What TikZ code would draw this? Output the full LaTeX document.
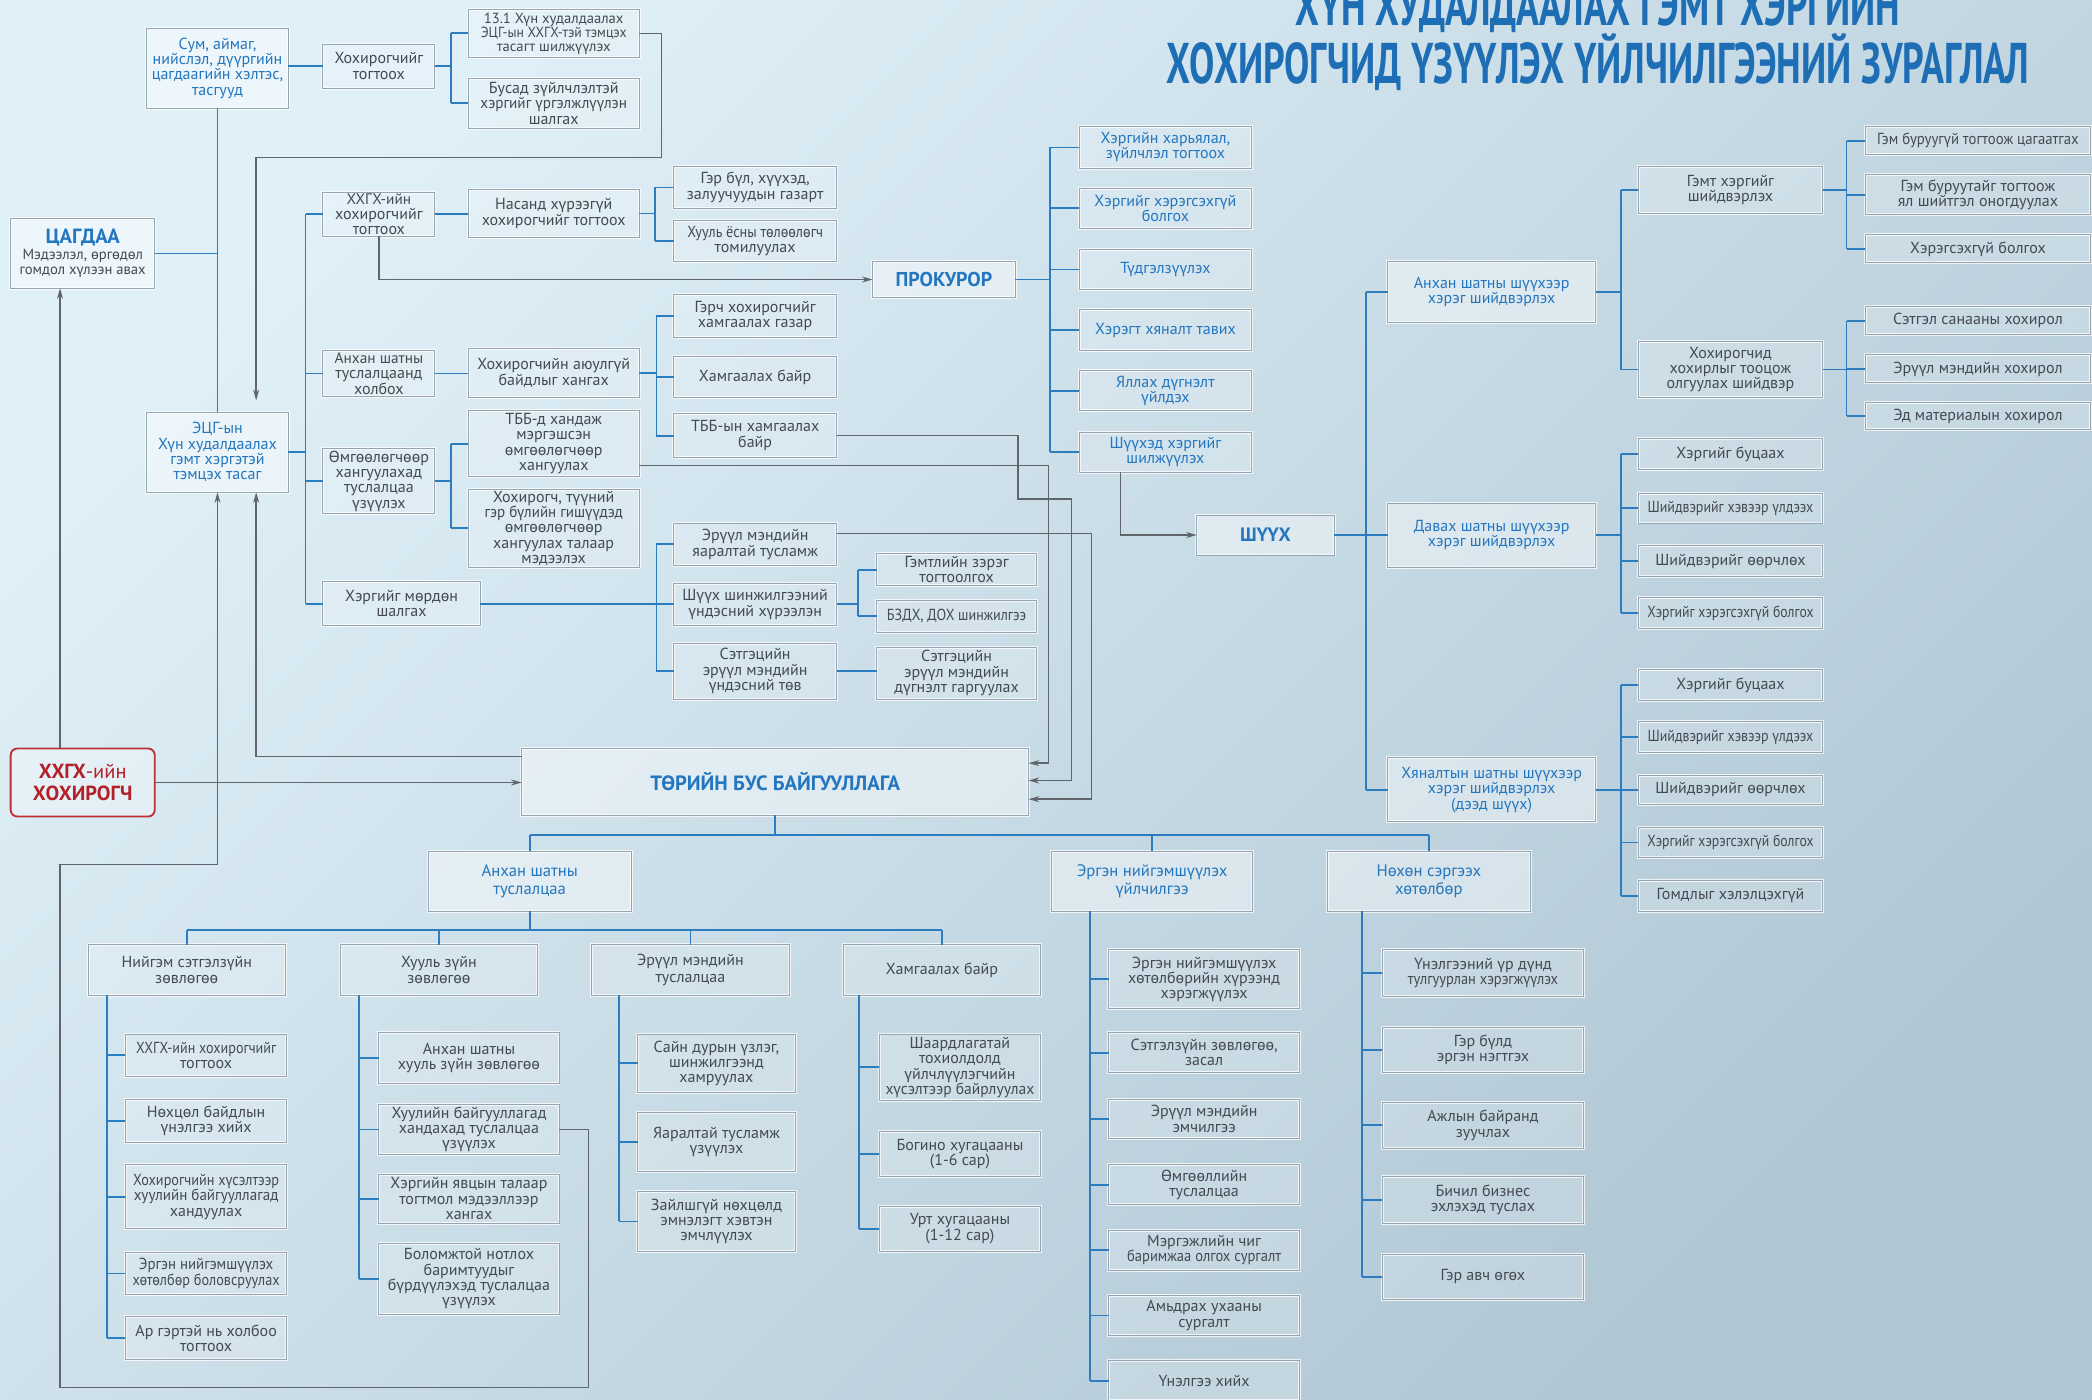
\documentclass[tikz,border=0pt]{standalone}
\usepackage{fontspec}
\usepackage{graphicx}
\setmainfont{PT Sans}
\usetikzlibrary{arrows.meta}
\definecolor{bgL}{RGB}{224,240,248}
\definecolor{bgD}{RGB}{176,199,212}
\definecolor{bord}{RGB}{150,164,175}
\definecolor{blueT}{RGB}{36,118,190}
\definecolor{blueL}{RGB}{44,124,192}
\definecolor{titleB}{RGB}{30,110,182}
\definecolor{txt}{RGB}{68,74,82}
\definecolor{grayL}{RGB}{96,101,107}
\definecolor{redB}{RGB}{192,48,56}
\definecolor{redT}{RGB}{178,32,40}
\newcommand\mybox[7]{\node[#6, minimum width={(#4)-(#2)}, minimum height={(#5)-(#3)}] (#1) at ({((#2)+(#4))/2},{((#3)+(#5))/2}) {#7};}
\newcommand\sqz[2]{\scalebox{#1}[1]{#2}}
\newcommand\fs[2]{\fontsize{#1}{#2}\selectfont}
\begin{document}
\begin{tikzpicture}[x=1pt,y=-1pt,
 bx/.style={draw=bord, line width=.7pt, fill=white, fill opacity=.18, text opacity=1,
   preaction={draw=white, draw opacity=.75, line width=2.2pt},
   align=center, inner sep=0.5pt, outer sep=0pt, text=txt, font=\fontsize{12}{11.5}\selectfont},
 hb/.style={bx, fill opacity=.42, text=blueT},
 bt/.style={bx, text=blueT, font=\fontsize{12}{11.3}\selectfont},
 hs/.style={hb, font=\fontsize{12.5}{13.7}\selectfont},
 sb/.style={bx, font=\fontsize{12}{12.5}\selectfont},
 sm/.style={bx, font=\fontsize{11}{10}\selectfont},
 vic/.style={draw=redB, line width=1.4pt, rounded corners=5pt, fill=white, fill opacity=.3, text opacity=1,
   text=redT, align=center, inner sep=1pt, outer sep=0pt, font=\fontsize{15.3}{16.5}\selectfont},
 bl/.style={draw=blueL, line width=1.35pt},
 ar/.style={draw=grayL, line width=1.1pt, -{Stealth[length=8pt,width=4.5pt]}},
]
\shade[top color=bgL, bottom color=bgD, shading angle=45] (0,0) rectangle (1568,1049);
\useasboundingbox (0,0) rectangle (1568,1049);

% title
\node[anchor=base, text=titleB, inner sep=0pt] (ttlA) at (1197.5,19)
  {\resizebox{453pt}{\height}{\fontsize{43}{43}\selectfont\bfseries ХҮН ХУДАЛДААЛАХ ГЭМТ ХЭРГИЙН}};
\node[anchor=base, text=titleB, inner sep=0pt] (ttlB) at (1197.5,62.5)
  {\resizebox{647pt}{\height}{\fontsize{43}{43}\selectfont\bfseries ХОХИРОГЧИД ҮЗҮҮЛЭХ ҮЙЛЧИЛГЭЭНИЙ ЗУРАГЛАЛ}};

% coordinates for connector columns / rows
\coordinate (X45) at (45,0);   \coordinate (X163) at (163,0); \coordinate (X192) at (192,0);
\coordinate (T1) at (338,0);   \coordinate (T2) at (229,0);   \coordinate (T3) at (491,0);
\coordinate (T4) at (492,0);   \coordinate (T5) at (338,0);   \coordinate (T6) at (492,0);
\coordinate (T7) at (643,0);   \coordinate (T8) at (787,0);   \coordinate (T9) at (1024,0);
\coordinate (T10) at (1215,0); \coordinate (T11) at (1384,0);
\coordinate (X80) at (80,0);   \coordinate (X269) at (269,0); \coordinate (X464) at (464,0);
\coordinate (X644) at (644,0); \coordinate (X817) at (817,0); \coordinate (X1021) at (1021,0);
\coordinate (X441) at (441,0); \coordinate (X496) at (496,0); \coordinate (X763) at (763,0);
\coordinate (X786) at (786,0); \coordinate (X803) at (803,0); \coordinate (X818) at (818,0);
\coordinate (X840) at (840,0);
\coordinate (Y118) at (0,118); \coordinate (Y349) at (0,349); \coordinate (Y374) at (0,374);
\coordinate (Y400) at (0,400); \coordinate (Y567) at (0,567); \coordinate (Y572) at (0,572);
\coordinate (Y585) at (0,585); \coordinate (Y599) at (0,599); \coordinate (Y626) at (0,626);
\coordinate (Y648) at (0,648); \coordinate (Y697) at (0,697); \coordinate (Y1040) at (0,1040);

% ---------- left / police part
\mybox{sum}{110}{21}{216}{81}{hb}{\fs{12}{11.2}Сум, аймаг,\\ нийслэл, дүүргийн\\ цагдаагийн хэлтэс,\\ тасгууд}
\mybox{htog}{242}{33}{326}{66}{bx}{Хохирогчийг\\ тогтоох}
\mybox{tA}{351}{7}{479}{43}{sm}{13.1 Хүн худалдаалах\\ \sqz{.93}{ЭЦГ-ын ХХГХ-тэй тэмцэх}\\ тасагт шилжүүлэх}
\mybox{tB}{351}{59}{479}{96}{bx}{\fs{12}{11}Бусад зүйлчлэлтэй\\ \sqz{.95}{хэргийг үргэлжлүүлэн}\\ шалгах}
\mybox{police}{8}{164}{116}{216}{hb}{{\fs{15.4}{15}\bfseries ЦАГДАА}\\ \textcolor{txt}{\fs{11}{10.5}Мэдээлэл, өргөдөл}\\ \textcolor{txt}{\fs{11}{10.5}гомдол хүлээн авах}}
\mybox{ecg}{110}{309}{216}{369}{hb}{\fs{12}{11.2}ЭЦГ-ын\\ Хүн худалдаалах\\ гэмт хэргэтэй\\ тэмцэх тасаг}
\mybox{victim}{8}{561}{116}{612}{vic}{\textbf{ХХГХ}-ийн\\ \textbf{ХОХИРОГЧ}}

\mybox{hx}{242}{144}{326}{177}{bx}{\fs{11.5}{10.5}ХХГХ-ийн\\ хохирогчийг\\ тогтоох}
\mybox{anh}{242}{263}{326}{297}{bx}{\fs{11.5}{10.6}Анхан шатны\\ туслалцаанд\\ холбох}
\mybox{omg}{242}{336}{326}{385}{bx}{\fs{12}{11}Өмгөөлөгчөөр\\ хангуулахад\\ туслалцаа\\ үзүүлэх}
\mybox{mor}{242}{436}{360}{469}{bx}{Хэргийг мөрдөн\\ шалгах}
\mybox{nas}{351}{142}{479}{178}{bx}{Насанд хүрээгүй\\ хохирогчийг тогтоох}
\mybox{gb}{505}{125}{627}{156}{bx}{Гэр бүл, хүүхэд,\\ залуучуудын газарт}
\mybox{hyo}{505}{165}{627}{196}{bx}{\sqz{.89}{Хууль ёсны төлөөлөгч}\\ томилуулах}
\mybox{ayl}{351}{261}{479}{298}{bx}{Хохирогчийн аюулгүй\\ байдлыг хангах}
\mybox{grc}{505}{221}{627}{253}{bx}{Гэрч хохирогчийг\\ хамгаалах газар}
\mybox{hmb}{505}{267}{627}{298}{bx}{Хамгаалах байр}
\mybox{tbr}{505}{310}{627}{343}{bx}{ТББ-ын хамгаалах\\ байр}
\mybox{tbd}{351}{308}{479}{357}{bx}{\fs{12}{11}ТББ-д хандаж\\ мэргэшсэн\\ өмгөөлөгчөөр\\ хангуулах}
\mybox{hoh}{351}{367}{479}{425}{bx}{\fs{12}{10.8}Хохирогч, түүний\\ \sqz{.94}{гэр бүлийн гишүүдэд}\\ өмгөөлөгчөөр\\ хангуулах талаар\\ мэдээлэх}
\mybox{eya}{505}{392}{627}{424}{bx}{Эрүүл мэндийн\\ яаралтай тусламж}
\mybox{shi}{505}{437}{627}{469}{bx}{Шүүх шинжилгээний\\ үндэсний хүрээлэн}
\mybox{stc}{505}{482}{627}{524}{bx}{Сэтгэцийн\\ эрүүл мэндийн\\ үндэсний төв}
\mybox{gmz}{657}{415}{777}{439}{bx}{\fs{12}{9.5}Гэмтлийн зэрэг\\ тогтоолгох}
\mybox{bzd}{657}{450}{777}{474}{bx}{\sqz{.88}{БЗДХ, ДОХ шинжилгээ}}
\mybox{std}{657}{485}{777}{524}{bx}{\fs{12}{10.8}Сэтгэцийн\\ эрүүл мэндийн\\ дүгнэлт гаргуулах}

% ---------- prosecutor
\mybox{prok}{654}{196}{761}{223}{hb}{\fs{15}{15}\bfseries ПРОКУРОР}
\mybox{pA}{809}{95}{938}{126}{bt}{Хэргийн харьялал,\\ зүйлчлэл тогтоох}
\mybox{pB}{809}{141}{938}{171}{bt}{Хэргийг хэрэгсэхгүй\\ болгох}
\mybox{pC}{809}{187}{938}{217}{bt}{Түдгэлзүүлэх}
\mybox{pD}{809}{232}{938}{263}{bt}{Хэрэгт хяналт тавих}
\mybox{pE}{809}{278}{938}{308}{bt}{Яллах дүгнэлт\\ үйлдэх}
\mybox{pF}{809}{324}{938}{354}{bt}{Шүүхэд хэргийг\\ шилжүүлэх}

% ---------- court
\mybox{court}{897}{386}{1000}{416}{hb}{\fs{14.5}{15}\bfseries ШҮҮХ}
\mybox{cA}{1040}{196}{1196}{242}{hb}{Анхан шатны шүүхээр\\ хэрэг шийдвэрлэх}
\mybox{cB}{1040}{377}{1196}{425}{hb}{Давах шатны шүүхээр\\ хэрэг шийдвэрлэх}
\mybox{cC}{1040}{568}{1196}{616}{hb}{Хяналтын шатны шүүхээр\\ хэрэг шийдвэрлэх\\ (дээд шүүх)}
\mybox{cAa}{1228}{125}{1366}{160}{bx}{Гэмт хэргийг\\ шийдвэрлэх}
\mybox{cAb}{1228}{256}{1366}{298}{bx}{Хохирогчид\\ хохирлыг тооцож\\ олгуулах шийдвэр}
\mybox{cAa1}{1398}{95}{1567}{116}{bx}{\sqz{.92}{Гэм буруугүй тогтоож цагаатгах}}
\mybox{cAa2}{1398}{131}{1567}{161}{bx}{Гэм буруутайг тогтоож\\ ял шийтгэл оногдуулах}
\mybox{cAa3}{1398}{176}{1567}{197}{bx}{Хэрэгсэхгүй болгох}
\mybox{cAb1}{1398}{230}{1567}{251}{bx}{Сэтгэл санааны хохирол}
\mybox{cAb2}{1398}{266}{1567}{287}{bx}{Эрүүл мэндийн хохирол}
\mybox{cAb3}{1398}{302}{1567}{322}{bx}{Эд материалын хохирол}
\mybox{cB1}{1228}{329}{1366}{352}{bx}{Хэргийг буцаах}
\mybox{cB2}{1228}{370}{1366}{392}{bx}{\sqz{.87}{Шийдвэрийг хэвээр үлдээх}}
\mybox{cB3}{1228}{409}{1366}{432}{bx}{Шийдвэрийг өөрчлөх}
\mybox{cB4}{1228}{448}{1366}{471}{bx}{\sqz{.86}{Хэргийг хэрэгсэхгүй болгох}}
\mybox{cC1}{1228}{502}{1366}{525}{bx}{Хэргийг буцаах}
\mybox{cC2}{1228}{541}{1366}{564}{bx}{\sqz{.87}{Шийдвэрийг хэвээр үлдээх}}
\mybox{cC3}{1228}{581}{1366}{603}{bx}{Шийдвэрийг өөрчлөх}
\mybox{cC4}{1228}{620}{1366}{643}{bx}{\sqz{.86}{Хэргийг хэрэгсэхгүй болгох}}
\mybox{cC5}{1228}{660}{1366}{683}{bx}{Гомдлыг хэлэлцэхгүй}

% ---------- NGO
\mybox{tbb}{391}{561}{771}{611}{hb}{\fs{15.5}{16}\bfseries ТӨРИЙН БУС БАЙГУУЛЛАГА}
\mybox{aA}{321}{638}{473}{683}{hs}{Анхан шатны\\ туслалцаа}
\mybox{aB}{788}{638}{939}{683}{hs}{Эргэн нийгэмшүүлэх\\ үйлчилгээ}
\mybox{aC}{995}{638}{1147}{683}{hs}{Нөхөн сэргээх\\ хөтөлбөр}
\mybox{bA}{66}{708}{214}{746}{sb}{Нийгэм сэтгэлзүйн\\ зөвлөгөө}
\mybox{bB}{255}{708}{403}{746}{sb}{Хууль зүйн\\ зөвлөгөө}
\mybox{bC}{443}{708}{592}{746}{sb}{Эрүүл мэндийн\\ туслалцаа}
\mybox{bD}{632}{708}{780}{746}{sb}{Хамгаалах байр}

\mybox{bA1}{94}{775}{215}{807}{bx}{\sqz{.88}{ХХГХ-ийн хохирогчийг}\\ тогтоох}
\mybox{bA2}{94}{824}{215}{856}{bx}{Нөхцөл байдлын\\ үнэлгээ хийх}
\mybox{bA3}{94}{873}{215}{921}{bx}{\sqz{.89}{Хохирогчийн хүсэлтээр}\\ \sqz{.94}{хуулийн байгууллагад}\\ хандуулах}
\mybox{bA4}{94}{939}{215}{970}{bx}{\sqz{.93}{Эргэн нийгэмшүүлэх}\\ \sqz{.89}{хөтөлбөр боловсруулах}}
\mybox{bA5}{94}{987}{215}{1019}{bx}{Ар гэртэй нь холбоо\\ тогтоох}
\mybox{bB1}{284}{774}{419}{812}{bx}{Анхан шатны\\ хууль зүйн зөвлөгөө}
\mybox{bB2}{284}{828}{419}{865}{bx}{\fs{12}{11}Хуулийн байгууллагад\\ хандахад туслалцаа\\ үзүүлэх}
\mybox{bB3}{284}{880}{419}{917}{bx}{\fs{12}{11}Хэргийн явцын талаар\\ тогтмол мэдээллээр\\ хангах}
\mybox{bB4}{284}{932}{419}{985}{bx}{Боломжтой нотлох\\ баримтуудыг\\ бүрдүүлэхэд туслалцаа\\ үзүүлэх}
\mybox{bC1}{478}{775}{596}{819}{bx}{Сайн дурын үзлэг,\\ шинжилгээнд\\ хамруулах}
\mybox{bC2}{478}{834}{596}{878}{bx}{Яаралтай тусламж\\ үзүүлэх}
\mybox{bC3}{478}{893}{596}{938}{bx}{Зайлшгүй нөхцөлд\\ эмнэлэгт хэвтэн\\ эмчлүүлэх}
\mybox{bD1}{659}{775}{780}{825}{bx}{Шаардлагатай\\ тохиолдолд\\ үйлчлүүлэгчийн\\ \sqz{.97}{хүсэлтээр байрлуулах}}
\mybox{bD2}{659}{848}{780}{882}{bx}{Богино хугацааны\\ (1-6 сар)}
\mybox{bD3}{659}{904}{780}{938}{bx}{Урт хугацааны\\ (1-12 сар)}
\mybox{aB1}{831}{712}{974}{756}{bx}{Эргэн нийгэмшүүлэх\\ хөтөлбөрийн хүрээнд\\ хэрэгжүүлэх}
\mybox{aB2}{831}{774}{974}{804}{bx}{Сэтгэлзүйн зөвлөгөө,\\ засал}
\mybox{aB3}{831}{824}{974}{853}{bx}{Эрүүл мэндийн\\ эмчилгээ}
\mybox{aB4}{831}{873}{974}{903}{bx}{Өмгөөллийн\\ туслалцаа}
\mybox{aB5}{831}{922}{974}{952}{bx}{Мэргэжлийн чиг\\ \sqz{.91}{баримжаа олгох сургалт}}
\mybox{aB6}{831}{971}{974}{1001}{bx}{Амьдрах ухааны\\ сургалт}
\mybox{aB7}{831}{1020}{974}{1050}{bx}{Үнэлгээ хийх}
\mybox{aC1}{1036}{712}{1187}{747}{bx}{Үнэлгээний үр дүнд\\ \sqz{.9}{тулгуурлан хэрэгжүүлэх}}
\mybox{aC2}{1036}{770}{1187}{804}{bx}{Гэр бүлд\\ эргэн нэгтгэх}
\mybox{aC3}{1036}{826}{1187}{861}{bx}{Ажлын байранд\\ зуучлах}
\mybox{aC4}{1036}{882}{1187}{917}{bx}{Бичил бизнес\\ эхлэхэд туслах}
\mybox{aC5}{1036}{940}{1187}{974}{bx}{Гэр авч өгөх}

% ---------- blue connectors
\draw[bl] (sum.south) -- (ecg.north);
\draw[bl] (police.east) -- (police.east -| sum.south);
\draw[bl] (htog.west -| sum.east) -- (htog.west);
\draw[bl] (htog.east) -- (htog.east -| T1);
\draw[bl] (tA.west -| T1) -- (tB.west -| T1);
\foreach \c in {tA,tB} \draw[bl] (\c.west -| T1) -- (\c.west);
\draw[bl] (ecg.east) -- (ecg.east -| T2);
\draw[bl] (hx.west -| T2) -- (mor.west -| T2);
\foreach \c in {hx,anh,omg,mor} \draw[bl] (\c.west -| T2) -- (\c.west);
\draw[bl] (hx.east) -- (hx.east -| nas.west);
\draw[bl] (nas.east) -- (nas.east -| T3);
\draw[bl] (gb.west -| T3) -- (hyo.west -| T3);
\foreach \c in {gb,hyo} \draw[bl] (\c.west -| T3) -- (\c.west);
\draw[bl] (anh.east) -- (anh.east -| ayl.west);
\draw[bl] (ayl.east) -- (ayl.east -| T4);
\draw[bl] (grc.west -| T4) -- (tbr.west -| T4);
\foreach \c in {grc,hmb,tbr} \draw[bl] (\c.west -| T4) -- (\c.west);
\draw[bl] (omg.east) -- (omg.east -| T5);
\draw[bl] (tbd.west -| T5) -- (hoh.west -| T5);
\foreach \c in {tbd,hoh} \draw[bl] (\c.west -| T5) -- (\c.west);
\draw[bl] (mor.east) -- (mor.east -| shi.west);
\draw[bl] (eya.west -| T6) -- (stc.west -| T6);
\foreach \c in {eya,stc} \draw[bl] (\c.west -| T6) -- (\c.west);
\draw[bl] (shi.east) -- (shi.east -| T7);
\draw[bl] (gmz.west -| T7) -- (bzd.west -| T7);
\foreach \c in {gmz,bzd} \draw[bl] (\c.west -| T7) -- (\c.west);
\draw[bl] (stc.east) -- (stc.east -| std.west);
\draw[bl] (prok.east) -- (prok.east -| T8);
\draw[bl] (pA.west -| T8) -- (pF.west -| T8);
\foreach \c in {pA,pB,pC,pD,pE,pF} \draw[bl] (\c.west -| T8) -- (\c.west);
\draw[bl] (court.east) -- (court.east -| T9);
\draw[bl] (cA.west -| T9) -- (cC.west -| T9);
\foreach \c in {cA,cB,cC} \draw[bl] (\c.west -| T9) -- (\c.west);
\draw[bl] (cA.east) -- (cA.east -| T10);
\draw[bl] (cAa.west -| T10) -- (cAb.west -| T10);
\foreach \c in {cAa,cAb} \draw[bl] (\c.west -| T10) -- (\c.west);
\draw[bl] (cAa.east) -- (cAa.east -| T11);
\draw[bl] (cAa1.west -| T11) -- (cAa3.west -| T11);
\foreach \c in {cAa1,cAa2,cAa3} \draw[bl] (\c.west -| T11) -- (\c.west);
\draw[bl] (cAb.east) -- (cAb.east -| T11);
\draw[bl] (cAb1.west -| T11) -- (cAb3.west -| T11);
\foreach \c in {cAb1,cAb2,cAb3} \draw[bl] (\c.west -| T11) -- (\c.west);
\draw[bl] (cB.east) -- (cB.east -| T10);
\draw[bl] (cB1.west -| T10) -- (cB4.west -| T10);
\foreach \c in {cB1,cB2,cB3,cB4} \draw[bl] (\c.west -| T10) -- (\c.west);
\draw[bl] (cC.east) -- (cC.east -| T10);
\draw[bl] (cC1.west -| T10) -- (cC5.west -| T10);
\foreach \c in {cC1,cC2,cC3,cC4,cC5} \draw[bl] (\c.west -| T10) -- (\c.west);
\draw[bl] (tbb.south) -- (tbb.south |- Y626);
\draw[bl] (aA.north |- Y626) -- (aC.north |- Y626);
\foreach \c in {aA,aB,aC} \draw[bl] (\c.north |- Y626) -- (\c.north);
\draw[bl] (aA.south) -- (aA.south |- Y697);
\draw[bl] (bA.north |- Y697) -- (bD.north |- Y697);
\foreach \c in {bA,bB,bC,bD} \draw[bl] (\c.north |- Y697) -- (\c.north);
\draw[bl] (bA.south -| X80) -- (bA5.west -| X80);
\foreach \c in {bA1,bA2,bA3,bA4,bA5} \draw[bl] (\c.west -| X80) -- (\c.west);
\draw[bl] (bB.south -| X269) -- (bB4.west -| X269);
\foreach \c in {bB1,bB2,bB3,bB4} \draw[bl] (\c.west -| X269) -- (\c.west);
\draw[bl] (bC.south -| X464) -- (bC3.west -| X464);
\foreach \c in {bC1,bC2,bC3} \draw[bl] (\c.west -| X464) -- (\c.west);
\draw[bl] (bD.south -| X644) -- (bD3.west -| X644);
\foreach \c in {bD1,bD2,bD3} \draw[bl] (\c.west -| X644) -- (\c.west);
\draw[bl] (aB.south -| X817) -- (aB7.west -| X817);
\foreach \c in {aB1,aB2,aB3,aB4,aB5,aB6,aB7} \draw[bl] (\c.west -| X817) -- (\c.west);
\draw[bl] (aC.south -| X1021) -- (aC5.west -| X1021);
\foreach \c in {aC1,aC2,aC3,aC4,aC5} \draw[bl] (\c.west -| X1021) -- (\c.west);

% ---------- gray arrows
\draw[ar, shorten >=9pt] (tA.east) -- (tA.east -| X496) -- (X496 |- Y118) -- (X192 |- Y118) -- (ecg.north -| X192);
\draw[ar] (hx.south) |- (prok.west);
\draw[ar] (victim.north -| X45) -- (police.south -| X45);
\draw[ar] (victim.east) -- (victim.east -| tbb.west);
\draw[ar] (bB2.east) -- (bB2.east -| X441) -- (X441 |- Y1040) -- (X45 |- Y1040) -- (X45 |- Y648) -- (X163 |- Y648) -- (ecg.south);
\draw[ar] (tbb.west |- Y567) -- (X192 |- Y567) -- (ecg.south -| X192);
\draw[ar] (tbd.east |- Y349) -- (X786 |- Y349) -- (X786 |- Y572) -- (tbb.east |- Y572);
\draw[ar] (tbr.east) -- (X763 |- tbr.east) -- (X763 |- Y374) -- (X803 |- Y374) -- (X803 |- Y585) -- (tbb.east |- Y585);
\draw[ar] (eya.east |- Y400) -- (X818 |- Y400) -- (X818 |- Y599) -- (tbb.east |- Y599);
\draw[ar] (pF.south -| X840) |- (court.west);
\end{tikzpicture}
\end{document}
